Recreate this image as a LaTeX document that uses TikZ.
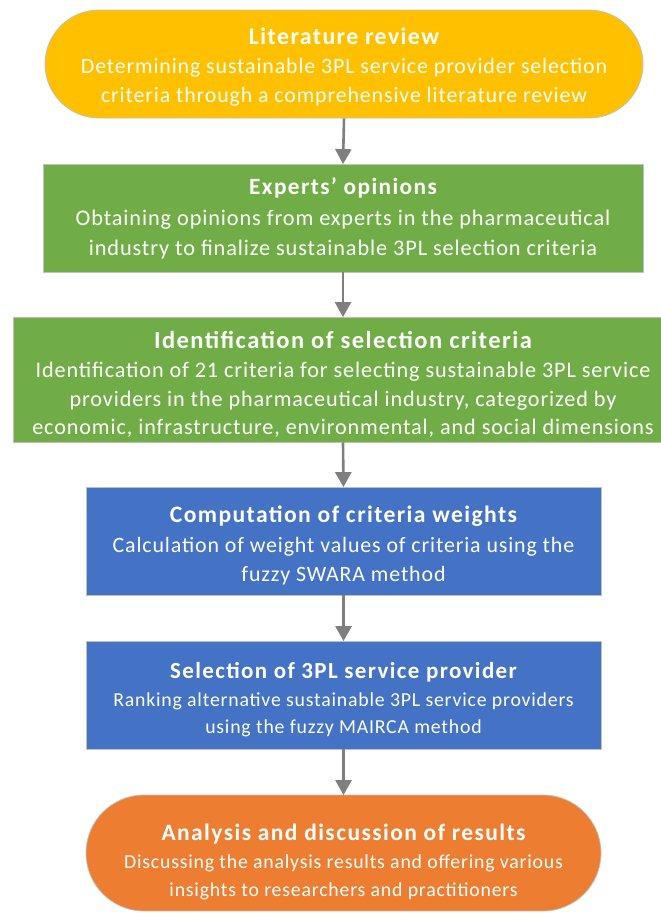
\documentclass[tikz,border=0pt]{standalone}
\usepackage{fontspec}
\setmainfont{Carlito}[LetterSpace=4]
\newfontfamily\titlefont{Carlito}[LetterSpace=6,UprightFont=*-Bold]
\usetikzlibrary{arrows.meta}
\definecolor{cyellow}{HTML}{FFC000}
\definecolor{cgreen}{HTML}{70AD47}
\definecolor{cblue}{HTML}{4472C4}
\definecolor{corange}{HTML}{ED7D31}
\definecolor{carrow}{HTML}{7F7F7F}
\definecolor{cedge}{HTML}{C0C0C0}
\tikzset{
  box/.style={draw=cedge, line width=0.8pt, inner sep=0pt},
  txt/.style={inner sep=0pt, align=center, text=white},
  flowarrow/.style={draw=carrow, line width=2.6pt, -{Triangle[width=16pt,length=15pt]}, shorten >=-0.5pt},
}
\begin{document}
\begin{tikzpicture}[x=1pt,y=-1pt]
\useasboundingbox (0,0) rectangle (661,913);
\node[box, fill=cyellow, minimum width=598pt, minimum height=108pt, rounded corners=54pt] (lit) at (344,64) {};
\node[txt, font=\fontsize{21.9}{29}\selectfont] (litT) at (344,67.5)
  {{\titlefont\fontsize{23.8}{29}\selectfont Literature review}\\Determining sustainable 3PL service provider selection\\criteria through a comprehensive literature review};
\node[box, fill=cgreen, minimum width=600pt, minimum height=108pt] (exp) at (343,218) {};
\node[txt, font=\fontsize{22.3}{30.5}\selectfont] (expT) at (343,218.5)
  {{\titlefont\fontsize{23.3}{30.5}\selectfont Experts’ opinions}\\Obtaining opinions from experts in the pharmaceutical\\industry to finalize sustainable 3PL selection criteria};
\node[box, fill=cgreen, minimum width=660pt, minimum height=125pt] (ident) at (343,379.5) {};
\node[txt, font=\fontsize{22.2}{28.7}\selectfont] (identT) at (343,384.5)
  {{\titlefont\fontsize{24.5}{28.7}\selectfont Identification of selection criteria}\\Identification of 21 criteria for selecting sustainable 3PL service\\providers in the pharmaceutical industry, categorized by\\economic, infrastructure, environmental, and social dimensions};
\node[box, fill=cblue, minimum width=515pt, minimum height=108pt] (comp) at (343.5,541) {};
\node[txt, font=\fontsize{21.9}{29.5}\selectfont] (compT) at (343.5,545.5)
  {{\titlefont\fontsize{23.6}{29.5}\selectfont Computation of criteria weights}\\Calculation of weight values of criteria using the\\fuzzy SWARA method};
\node[box, fill=cblue, minimum width=515pt, minimum height=108pt] (sel) at (343.5,695) {};
\node[txt, font=\fontsize{19.8}{27.5}\selectfont] (selT) at (343.5,700)
  {{\titlefont\fontsize{23}{27.5}\selectfont Selection of 3PL service provider}\\Ranking alternative sustainable 3PL service providers\\using the fuzzy MAIRCA method};
\node[box, fill=corange, minimum width=515pt, minimum height=116pt, rounded corners=58pt] (ana) at (343.5,853) {};
\node[txt, font=\fontsize{19.8}{28}\selectfont] (anaT) at (343.5,861.5)
  {{\titlefont\fontsize{23.5}{28}\selectfont Analysis and discussion of results}\\Discussing the analysis results and offering various\\insights to researchers and practitioners};
\draw[flowarrow] (lit.south) -- (exp.north);
\draw[flowarrow] (exp.south) -- (ident.north);
\draw[flowarrow] (ident.south) -- (comp.north);
\draw[flowarrow] (comp.south) -- (sel.north);
\draw[flowarrow] (sel.south) -- (ana.north);
\end{tikzpicture}
\end{document}
